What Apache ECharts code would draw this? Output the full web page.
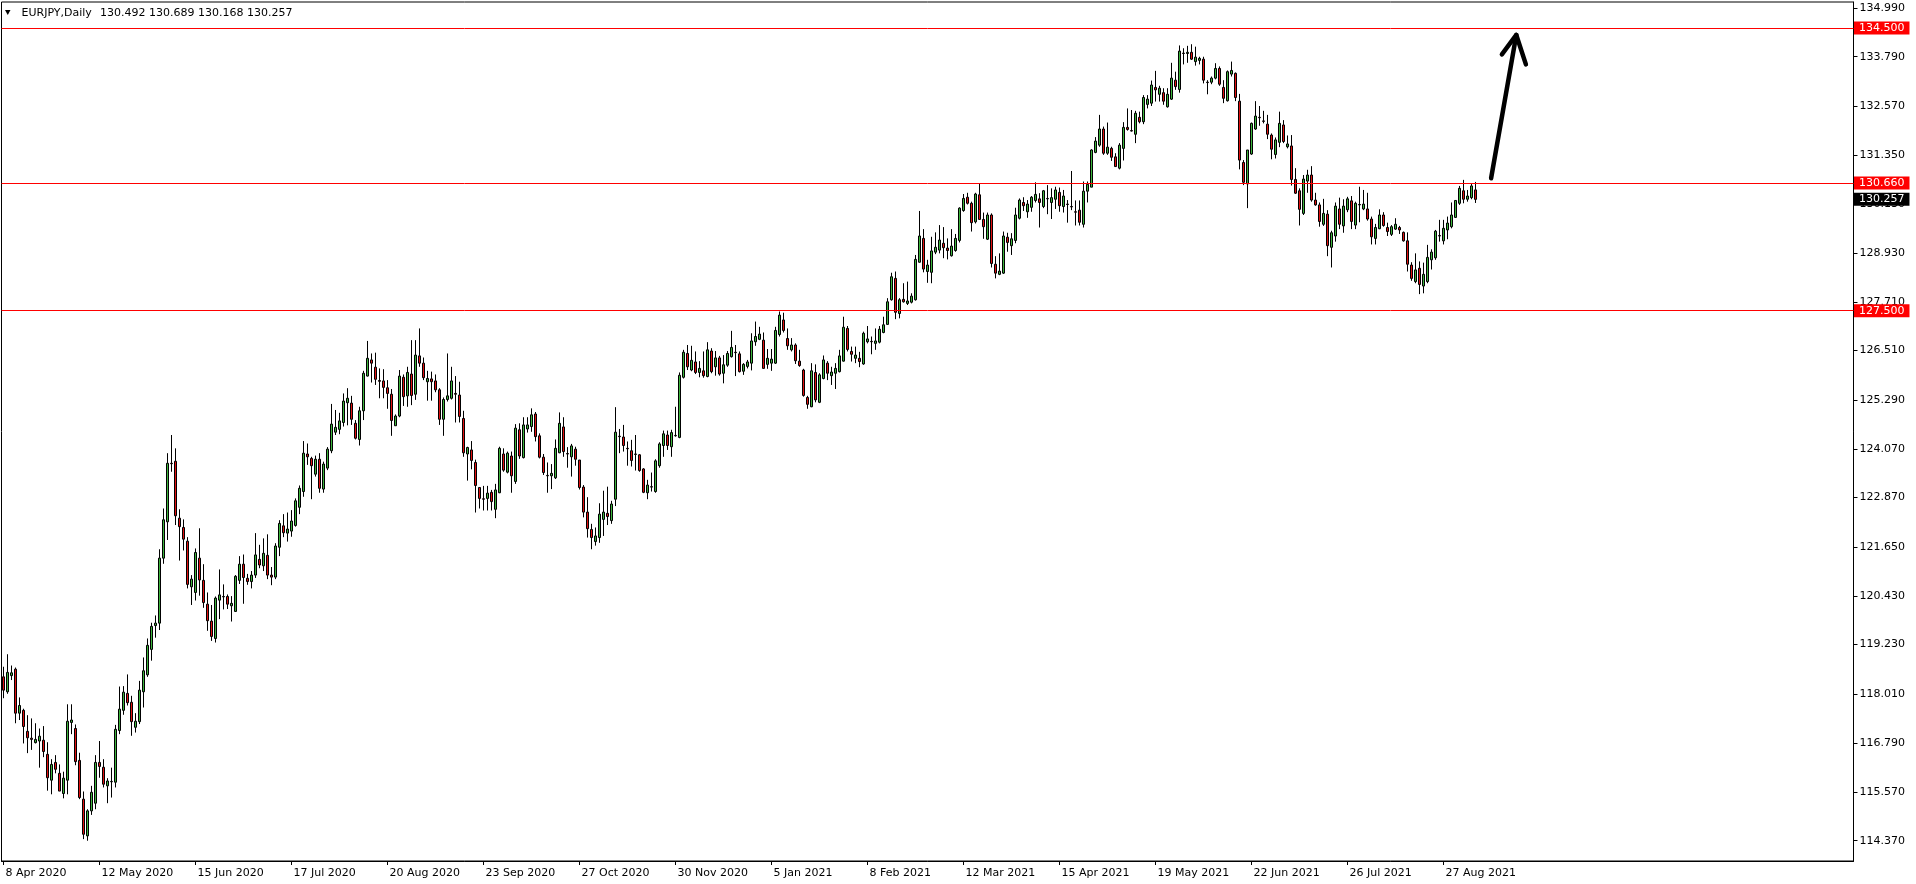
<!DOCTYPE html>
<html>
<head>
<meta charset="utf-8">
<script src="https://cdn.jsdelivr.net/npm/echarts@6/dist/echarts.min.js"></script>
<style>
html,body{margin:0;padding:0;background:#fff;}
#chart{width:1916px;height:884px;}
</style>
</head>
<body>
<div id="chart"></div>
<script>
// ---------------- DATA ----------------
const symbolName = 'EURJPY,Daily';
const firstDate = [2020, 3, 8];           // 8 Apr 2020 (month 0-based)
const holidays = ['12-25', '01-01'];      // days without a bar
const labelEvery = 24;                    // one date label every 24 bars
const tickLabels = ['8 Apr 2020','12 May 2020','15 Jun 2020','17 Jul 2020','20 Aug 2020','23 Sep 2020',
  '27 Oct 2020','30 Nov 2020','5 Jan 2021','8 Feb 2021','12 Mar 2021','15 Apr 2021','19 May 2021',
  '22 Jun 2021','26 Jul 2021','27 Aug 2021'];
const priceTicks = [134.99,133.79,132.57,131.35,130.13,128.93,127.71,126.51,125.29,124.07,122.87,
  121.65,120.43,119.23,118.01,116.79,115.57,114.37];
const levels = [134.5, 130.66, 127.5];
const lastPrice = 130.257;
const emptySlots = 94;                    // empty space right of last bar
const yMin = 113.868, yMax = 135.146;
// arrow annotation [barIndex, price]
const arrowShaft = [[371.9, 130.78], [378.2, 134.33]];
const arrowHead = [[374.6, 133.85], [378.2, 134.33], [380.6, 133.60]];

// candles: [open, close, low, high]
const candles = [
[118.43,118.10,117.90,118.68],[118.06,118.54,118.01,118.99],[118.46,118.53,118.35,118.71],[118.62,117.53,117.28,118.66],
[117.53,117.72,117.36,117.92],[117.60,117.20,116.78,117.64],[117.08,116.92,116.54,117.48],[116.91,116.88,116.62,117.40],
[116.80,116.88,116.78,117.28],[116.84,116.96,116.18,117.15],[116.86,116.58,116.44,117.21],[116.51,115.93,115.61,116.81],
[115.87,116.26,115.52,116.39],[116.31,116.14,116.04,116.49],[116.04,115.60,115.60,116.26],[115.54,115.92,115.42,116.08],
[115.87,117.33,115.52,117.75],[117.30,117.36,117.01,117.75],[117.15,116.33,116.24,117.25],[116.36,115.44,115.40,116.55],
[115.40,114.53,114.41,115.59],[114.49,115.11,114.37,115.15],[115.11,115.57,115.01,115.73],[115.30,116.31,115.15,116.49],
[116.31,116.21,115.93,116.84],[116.19,115.77,115.69,116.39],[115.73,115.85,115.30,115.92],[115.83,115.84,115.44,116.18],
[115.82,117.13,115.69,117.24],[117.10,117.63,117.01,118.19],[117.60,118.05,117.49,118.20],[118.02,117.79,117.72,118.49],
[117.80,117.32,116.97,117.96],[117.18,117.33,117.05,117.53],[117.32,118.10,117.26,118.33],[118.06,118.58,117.67,118.91],
[118.48,119.21,118.43,119.38],[119.11,119.68,118.83,119.77],[119.70,119.76,119.40,119.95],[119.76,121.37,119.59,121.59],
[121.37,122.32,121.23,122.60],[122.27,123.72,121.82,123.97],[123.72,123.71,123.51,124.42],[123.77,122.42,122.19,124.09],
[122.36,122.15,121.31,122.58],[122.13,121.84,121.56,122.33],[121.79,120.72,120.62,121.89],[120.66,120.85,120.21,120.95],
[120.52,121.51,120.32,121.61],[121.37,120.83,120.44,122.11],[120.82,120.27,120.14,121.22],[120.23,119.82,119.57,120.52],
[119.81,119.43,119.32,120.21],[119.38,120.38,119.28,120.42],[120.33,120.46,119.86,121.09],[120.41,120.42,120.10,120.72],
[120.42,120.23,120.11,120.47],[120.19,120.25,119.80,120.43],[120.05,120.92,120.04,120.95],[120.82,121.22,120.73,121.42],
[121.22,120.89,120.24,121.46],[120.87,120.79,120.71,120.98],
// 62
[120.79,120.95,120.62,121.05],[120.95,121.45,120.88,121.99],[121.34,121.20,121.12,121.70],[121.18,121.49,121.05,121.86],
[121.44,120.95,120.85,121.96],[120.95,120.90,120.70,121.15],[120.90,121.67,120.85,121.74],[121.64,122.23,121.42,122.31],
[122.17,122.00,121.89,122.46],[121.99,122.09,121.78,122.50],[122.04,122.29,121.90,122.56],[122.18,122.79,122.15,122.85],
[122.63,123.10,122.46,123.17],[123.02,123.97,122.89,124.27],[123.95,123.88,123.68,124.21],[123.84,123.66,122.83,123.88],
[123.45,123.82,123.39,123.91],[123.82,123.10,122.99,123.97],[123.08,123.70,122.99,123.76],[123.60,124.07,123.55,124.12],
[124.03,124.69,123.97,125.19],[124.49,124.61,124.42,125.04],[124.56,124.77,124.44,124.97],[124.73,125.26,124.63,125.45],
[125.22,125.33,124.66,125.58],[125.21,124.81,124.67,125.39],[124.71,124.34,124.31,124.79],[124.31,125.02,124.16,125.12],
[125.02,125.95,124.79,126.01],[125.88,126.32,125.87,126.75],[126.28,126.20,125.72,126.44],[126.10,125.80,125.66,126.46],
[125.77,125.75,125.33,126.07],[125.76,125.60,125.33,126.05],[125.59,125.45,125.07,125.78],[125.43,124.78,124.40,125.56],
[124.65,124.89,124.65,124.93],[124.89,125.88,124.86,126.03],[125.85,125.37,125.14,125.92],[125.39,125.97,125.12,126.11],
[125.93,125.40,125.16,126.77],[125.43,126.40,125.29,126.77],[126.38,126.20,126.11,127.06],[126.20,125.84,125.78,126.34],
[125.74,125.82,125.27,126.01],[125.81,125.74,125.27,125.99],[125.76,125.54,125.48,125.92],[125.54,124.81,124.67,125.58],
[124.81,125.30,124.40,125.35],[125.30,125.39,125.25,126.44],[125.33,125.76,125.30,126.11],[125.45,125.43,124.73,125.88],
[125.41,124.88,124.73,125.74],[124.83,123.98,123.88,125.02],[123.95,124.11,123.29,124.13],[124.05,123.79,123.57,124.27],
[123.74,123.17,122.50,123.81],[123.12,122.85,122.60,123.12],[122.84,122.83,122.55,123.16],[122.85,122.98,122.55,123.16],
[123.00,122.77,122.55,123.06],[122.58,123.06,122.36,123.21],[122.99,124.09,122.98,124.13],
// 125
[123.95,123.55,123.51,124.09],[123.50,123.97,123.47,124.01],[123.90,123.41,122.99,124.01],[123.27,124.59,123.21,124.69],
[124.55,123.90,123.83,124.71],[123.86,124.67,123.84,124.86],[124.57,124.67,124.48,124.86],[124.63,124.92,124.50,125.08],
[124.94,124.38,124.26,124.99],[124.40,123.87,123.84,124.46],[123.87,123.49,123.43,123.95],[123.42,123.41,122.99,123.74],
[123.41,123.47,123.08,123.70],[123.36,124.09,123.33,124.31],[123.98,124.71,123.97,124.98],[124.62,124.01,123.88,124.86],
[123.96,123.95,123.61,124.12],[123.88,124.15,123.39,124.20],[124.07,123.82,123.66,124.13],[123.80,123.12,123.07,123.80],
[123.13,122.51,122.38,123.18],[122.51,122.10,121.88,122.88],[122.08,121.88,121.59,122.22],[121.78,121.92,121.68,122.13],
[121.88,122.46,121.75,122.73],[122.33,122.51,121.92,123.04],[122.48,122.40,122.19,123.14],[122.30,122.71,122.22,122.79],
[122.83,124.49,122.66,125.11],[124.39,124.38,123.97,124.57],[124.37,124.16,124.01,124.67],[124.09,124.08,123.66,124.26],
[124.03,123.79,123.64,124.30],[123.95,123.94,123.54,124.42],[123.93,123.54,123.51,123.95],[123.58,123.00,122.98,123.60],
[122.99,123.18,122.83,123.31],[123.14,123.13,123.02,123.49],[123.02,123.78,122.99,123.82],[123.66,124.20,123.61,124.24],
[124.16,124.45,123.88,124.53],[124.42,124.16,124.05,124.53],[124.13,124.48,123.88,124.55],[124.40,124.41,124.38,125.12],
[124.36,125.90,124.34,125.97],[125.85,126.47,125.82,126.53],[126.44,126.11,126.03,126.65],[126.03,126.27,126.00,126.63],
[126.23,125.97,125.93,126.49],[125.97,126.07,125.85,126.25],[126.01,125.89,125.84,126.49],[125.87,126.53,125.85,126.72],
[126.50,125.99,125.95,126.57],[126.11,126.33,125.89,126.50],[126.33,125.93,125.89,126.38],[125.95,126.16,125.70,126.40],
[126.15,126.44,126.11,126.50],[126.36,126.59,126.34,127.00],[126.47,126.46,125.88,126.65],[126.43,125.99,125.97,126.49],
[126.00,126.17,125.91,126.20],[126.12,126.23,126.07,126.28],[126.20,126.75,126.02,126.94],
// 188
[126.73,126.86,126.63,127.23],[126.79,126.92,126.77,127.10],[126.77,126.07,126.07,126.96],[126.17,126.32,126.06,126.55],
[126.20,126.30,126.01,126.55],[126.20,127.01,126.18,127.10],[126.91,127.39,126.86,127.48],[127.27,127.01,126.96,127.45],
[126.81,126.63,126.53,127.06],[126.53,126.65,126.49,126.82],[126.65,126.26,126.18,126.69],[126.25,126.14,126.11,126.53],
[126.03,125.40,125.37,126.06],[125.35,125.18,125.07,125.39],[125.12,126.01,125.11,126.20],[125.97,125.29,125.23,126.17],
[125.23,125.91,125.21,125.95],[125.82,126.28,125.80,126.39],[126.20,125.95,125.78,126.25],[125.89,125.98,125.66,126.11],
[125.95,126.07,125.56,126.20],[125.99,126.38,125.97,126.53],[126.25,127.09,126.24,127.35],[127.06,126.54,126.49,127.12],
[126.49,126.42,126.24,126.61],[126.32,126.40,126.20,126.61],[126.32,126.24,126.10,126.48],[126.18,126.94,126.16,126.98],
[126.73,126.80,126.69,127.12],[126.74,126.73,126.42,126.86],[126.69,126.75,126.53,127.06],[126.72,127.04,126.69,127.12],
[126.96,127.15,126.94,127.35],[127.16,127.72,127.15,127.81],[127.77,128.34,127.75,128.44],[128.30,127.46,127.29,128.47],
[127.43,127.77,127.31,127.81],[127.78,127.72,127.70,128.18],[127.68,127.74,127.64,128.22],[127.71,127.86,127.68,127.93],
[127.77,128.77,127.75,128.88],[128.70,129.35,128.69,129.97],[129.29,128.53,128.45,129.52],[128.47,128.63,128.19,128.76],
[128.45,128.98,128.18,129.33],[128.95,129.07,128.90,129.44],[129.00,129.25,128.92,129.62],[129.17,129.06,128.80,129.57],
[129.05,128.99,128.77,129.29],[128.86,129.10,128.84,129.52],[128.99,129.29,128.96,129.40],[129.24,130.04,129.19,130.06],
[129.98,130.28,129.95,130.39],[130.31,130.16,130.13,130.42],[130.16,129.68,129.46,130.20],[129.70,130.39,129.66,130.42],
[130.37,129.76,129.75,130.66],[129.76,129.58,129.28,129.93],[129.27,129.87,129.25,129.93],[129.87,128.67,128.57,129.91],
[128.65,128.43,128.30,128.85],[128.40,128.48,128.38,128.92],[128.43,129.35,128.41,129.46],
// 251
[129.32,129.19,128.96,129.43],[129.11,129.28,128.88,129.42],[129.24,129.87,129.17,130.05],[129.79,130.24,129.76,130.28],
[130.18,130.10,129.97,130.31],[129.95,130.14,129.80,130.24],[130.06,130.31,129.95,130.34],[130.23,130.38,130.18,130.68],
[130.27,130.18,129.56,130.41],[130.08,130.47,130.04,130.49],[130.28,130.27,129.89,130.61],[130.18,130.30,129.77,130.53],
[130.26,130.49,130.02,130.57],[130.43,130.10,129.95,130.55],[130.08,130.34,129.93,130.49],[130.14,130.13,129.68,130.24],
[130.08,130.07,129.99,130.96],[129.95,129.94,129.61,130.23],[129.99,129.69,129.61,130.23],[129.64,130.46,129.56,130.70],
[130.46,130.63,130.18,130.70],[130.56,131.48,130.56,131.50],[131.42,131.70,131.40,131.80],[131.60,132.00,131.56,132.35],
[132.00,131.40,131.36,132.06],[131.40,131.55,131.36,132.16],[131.52,131.30,131.21,131.56],[131.31,131.07,131.07,131.40],
[131.03,131.60,131.00,131.65],[131.52,132.04,131.22,132.17],[132.04,131.99,131.96,132.51],[131.96,131.95,131.94,132.47],
[131.87,132.39,131.65,132.45],[132.29,132.18,132.14,132.43],[132.18,132.78,132.12,132.84],[132.61,132.74,132.51,132.84],
[132.64,133.09,132.57,133.20],[133.03,132.97,132.68,133.44],[132.86,133.01,132.68,133.07],[132.90,132.69,132.60,133.01],
[132.55,132.86,132.53,133.01],[132.74,133.26,132.72,133.64],[133.21,133.05,132.97,133.42],[132.98,133.93,132.90,134.07],
[133.88,133.87,133.60,134.00],[133.87,133.90,133.64,134.06],[133.90,133.73,133.71,134.10],[133.67,133.78,133.57,134.04],
[133.70,133.75,133.60,133.79],[133.73,133.21,133.13,133.79],[133.16,133.15,132.86,133.21],[133.16,133.26,133.11,133.30],
[133.26,133.50,133.23,133.63],[133.50,133.11,133.07,133.55],[133.03,132.76,132.64,133.21],[132.70,133.42,132.68,133.45],
[133.36,133.45,133.30,133.67],[133.38,132.78,132.69,133.40],[132.69,131.23,131.00,132.87],[131.17,130.68,130.61,131.23],
[130.64,131.48,130.04,131.48],[131.38,132.14,131.36,132.16],[132.00,132.32,131.98,132.69],
// 314
[132.29,132.28,132.08,132.57],[132.20,132.19,132.14,132.45],[132.12,131.87,131.75,132.35],[131.85,131.50,131.25,131.89],
[131.37,131.73,131.27,131.79],[131.67,132.14,131.55,132.43],[132.10,131.69,131.65,132.22],[131.56,131.63,131.52,131.84],
[131.58,130.75,130.60,131.85],[130.75,130.41,130.39,131.03],[130.47,130.01,129.61,130.53],[129.91,130.76,129.87,130.86],
[130.71,130.86,130.42,130.99],[130.86,130.24,130.20,131.08],[130.24,130.12,130.10,130.42],[130.12,129.71,129.58,130.18],
[129.64,129.91,129.60,130.27],[129.89,129.11,128.85,129.99],[129.07,129.43,128.57,129.48],[129.35,130.09,129.21,130.18],
[130.02,129.64,129.52,130.30],[129.60,130.09,129.43,130.26],[130.00,130.27,129.94,130.32],[130.22,129.71,129.52,130.34],
[129.62,130.16,129.52,130.20],[130.13,130.12,129.69,130.57],[130.02,130.14,129.99,130.49],[130.02,129.77,129.73,130.42],
[129.77,129.33,129.14,129.83],[129.29,129.56,129.14,129.65],[129.53,129.87,129.52,130.01],[129.87,129.61,129.58,129.94],
[129.56,129.46,129.35,129.68],[129.39,129.58,129.35,129.62],[129.52,129.64,129.50,129.79],[129.56,129.50,129.40,129.60],
[129.44,129.23,129.21,129.46],[129.23,128.65,128.47,129.44],[128.63,128.30,128.24,128.70],[128.22,128.51,128.18,128.92],
[128.55,128.15,127.91,128.72],[128.11,128.40,127.93,128.69],[128.22,128.82,128.18,129.13],[128.76,128.95,128.52,129.02],
[128.81,129.47,128.76,129.50],[129.36,129.35,129.21,129.75],[129.23,129.54,129.14,129.75],[129.50,129.67,129.27,129.83],
[129.58,129.87,129.54,130.18],[129.81,130.23,129.80,130.24],[130.16,130.53,130.12,130.59],[130.47,130.26,130.16,130.74],
[130.26,130.34,130.20,130.49],[130.30,130.59,130.26,130.64],[130.492,130.257,130.168,130.689]
];

// ---------------- BUILD ----------------
const FONT = 'DejaVu Sans';
const MONTHS = ['Jan','Feb','Mar','Apr','May','Jun','Jul','Aug','Sep','Oct','Nov','Dec'];
function buildDates(n) {
  const out = [];
  let t = Date.UTC(firstDate[0], firstDate[1], firstDate[2]);
  while (out.length < n) {
    const d = new Date(t);
    const wd = d.getUTCDay();
    const key = String(d.getUTCMonth() + 1).padStart(2, '0') + '-' + String(d.getUTCDate()).padStart(2, '0');
    if (wd !== 0 && wd !== 6 && holidays.indexOf(key) < 0) {
      out.push(d.getUTCDate() + ' ' + MONTHS[d.getUTCMonth()] + ' ' + d.getUTCFullYear());
    }
    t += 86400000;
  }
  return out;
}
const categories = buildDates(candles.length);
for (let i = 0; i < emptySlots; i++) categories.push('');
const nSlots = categories.length;
const isLabel = (idx) => idx % labelEvery === 0 && idx / labelEvery < tickLabels.length;

const last = candles[candles.length - 1];
const titleValues = [last[0], last[3], last[2], last[1]].map(v => v.toFixed(3)).join(' ');

function levelLine(v, color, lineColor) {
  return {
    yAxis: v,
    lineStyle: { color: lineColor, width: 1, type: 'solid' },
    label: {
      show: true, position: 'end', distance: 0.5,
      formatter: v.toFixed(3),
      color: '#fff', backgroundColor: color,
      fontFamily: FONT, fontSize: 11, lineHeight: 13,
      padding: [0, 5, 0, 5]
    }
  };
}

const chart = echarts.init(document.getElementById('chart'), null, { renderer: 'canvas' });
chart.setOption({
  animation: false,
  backgroundColor: '#ffffff',
  grid: { left: 1.5, right: 62.5, top: 2, bottom: 23, show: true, borderColor: '#000', borderWidth: 1, backgroundColor: '#fff' },
  xAxis: [{
    type: 'category', data: categories, boundaryGap: true,
    axisLine: { show: true, onZero: false, lineStyle: { color: '#000', width: 1 } },
    axisTick: { show: true, alignWithLabel: true, interval: isLabel, length: 4, lineStyle: { color: '#000' } },
    axisLabel: {
      interval: isLabel, formatter: (v, i) => tickLabels[i / labelEvery],
      align: 'left', margin: 7, color: '#000', fontFamily: FONT, fontSize: 11, padding: [0, 0, 0, 2]
    },
    splitLine: { show: false }
  }, {
    type: 'value', min: -0.5, max: nSlots - 0.5, show: false
  }],
  yAxis: {
    type: 'value', position: 'right', min: yMin, max: yMax,
    axisLine: { show: true, onZero: false, lineStyle: { color: '#000', width: 1 } },
    axisTick: { show: true, customValues: priceTicks, length: 4, lineStyle: { color: '#000' } },
    axisLabel: { customValues: priceTicks, formatter: v => v.toFixed(3), margin: 6, color: '#000', fontFamily: FONT, fontSize: 11 },
    splitLine: { show: false }
  },
  graphic: [
    { type: 'polygon', shape: { points: [[5, 10], [10.5, 10], [7.75, 15]] }, style: { fill: '#000' }, z: 100 },
    { type: 'text', x: 21.5, y: 13, style: { text: symbolName, fill: '#000', fontFamily: FONT, fontSize: 11, verticalAlign: 'middle' }, z: 100 },
    { type: 'text', x: 100, y: 13, style: { text: titleValues, fill: '#000', fontFamily: FONT, fontSize: 11, verticalAlign: 'middle' }, z: 100 }
  ],
  series: [{
    type: 'candlestick',
    data: candles,
    barWidth: 2,
    itemStyle: { color: '#3CB43C', color0: '#E01010', borderColor: '#000', borderColor0: '#000', borderWidth: 1 },
    silent: true,
    markLine: {
      symbol: ['none', 'none'], silent: true, animation: false,
      data: [
        levelLine(levels[0], '#FF0000', '#FF0000'),
        levelLine(levels[1], '#FF0000', '#FF0000'),
        levelLine(levels[2], '#FF0000', '#FF0000'),
        levelLine(lastPrice, '#000000', 'rgba(0,0,0,0)')
      ]
    }
  }, {
    type: 'line', xAxisIndex: 1, data: arrowShaft, symbol: 'none', silent: true, clip: false,
    lineStyle: { color: '#000', width: 4.5, cap: 'round', join: 'round' }, z: 10
  }, {
    type: 'line', xAxisIndex: 1, data: arrowHead, symbol: 'none', silent: true, clip: false,
    lineStyle: { color: '#000', width: 4.5, cap: 'round', join: 'round' }, z: 10
  }]
});
</script>
</body>
</html>
